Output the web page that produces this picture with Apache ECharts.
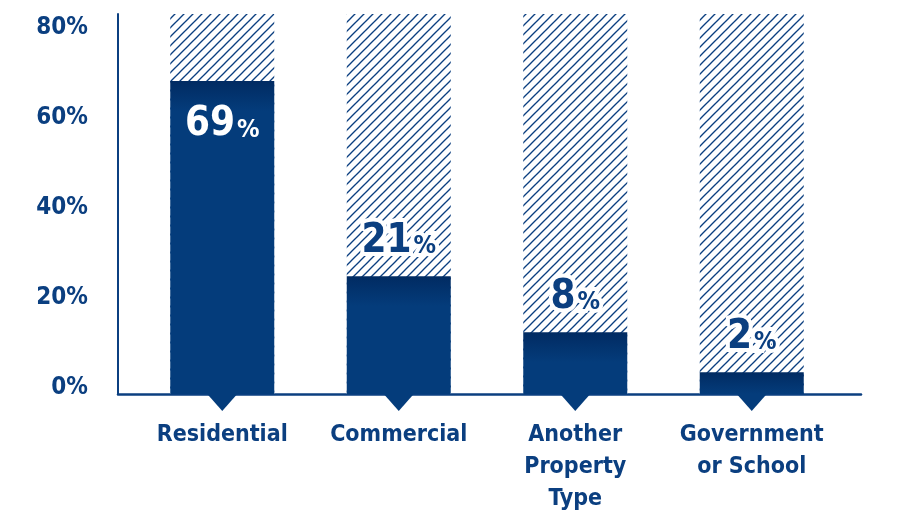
<!DOCTYPE html>
<html><head><meta charset="utf-8">
<script src="https://cdn.jsdelivr.net/npm/echarts@6/dist/echarts.min.js"></script>
<style>html,body{margin:0;padding:0;background:#fff}#c{width:903px;height:512px}</style>
</head><body><div id="c"></div>
<script>
// ---- data ----
const categories = ['Residential', 'Commercial', 'Another\nProperty\nType', 'Government\nor School'];
const barHeights = [65.9, 24.8, 13.0, 4.6];      // drawn bar heights (% scale)
const shareLabels = ['69', '21', '8', '2'];       // printed value labels
const backgroundLevel = [80, 80, 80, 80];         // hatched backdrop (axis max)
const yTickValues = [0, 20, 40, 60, 80];
const pointerBase = [0, 0, 0, 0];                 // triangles sit on the baseline

const NAVY = '#0b3f80';
const BAR_TOP = '#012b62';
const BAR = '#043c7b';
const FONT = "'DejaVu Sans Condensed','Liberation Sans Narrow','Roboto',sans-serif";

// diagonal hatch tile
function hatchTile() {
  const s = 9, c = document.createElement('canvas');
  c.width = s; c.height = s;
  const g = c.getContext('2d');
  g.fillStyle = '#fff'; g.fillRect(0, 0, s, s);
  g.strokeStyle = NAVY; g.lineWidth = 1.3;
  [0, s, 2 * s].forEach(k => { g.beginPath(); g.moveTo(-s, k + s); g.lineTo(k + s, -s); g.stroke(); });
  return c;
}

const chart = echarts.init(document.getElementById('c'), null, {renderer: 'canvas'});

const barData = barHeights.map((v, i) => {
  const f = Math.min(1, 6.3 / v);
  const inside = v > 40;
  const common = {fontFamily: FONT, fontWeight: 'bold', color: inside ? '#fff' : NAVY,
                  textBorderColor: inside ? 'transparent' : '#fff', textBorderWidth: inside ? 0 : 8};
  return {
    value: v,
    itemStyle: {
      color: {type: 'linear', x: 0, y: 0, x2: 0, y2: 1, colorStops: [
        {offset: 0, color: BAR_TOP}, {offset: f, color: BAR}, {offset: 1, color: BAR}]}
    },
    label: {
      show: true,
      position: inside ? 'insideTop' : 'top',
      distance: inside ? 24 : 15,
      formatter: '{n|' + shareLabels[i] + '}{p|%}',
      rich: {
        n: Object.assign({fontSize: 40}, common),
        p: Object.assign({fontSize: 25, verticalAlign: 'bottom', padding: [0, 0, 2, 2]}, common)
      }
    }
  };
});

chart.setOption({
  animation: false,
  backgroundColor: '#fff',
  grid: [
    {left: 118, right: 42, top: 14, bottom: 118, outerBoundsMode: 'none', containLabel: false},
    {left: 134, right: 63, top: 14, bottom: 118, outerBoundsMode: 'none', containLabel: false}
  ],
  xAxis: [
    {gridIndex: 0, type: 'value', min: 0, max: 1,
     axisLine: {show: true, onZero: false, lineStyle: {color: NAVY, width: 2.5}},
     axisTick: {show: false}, axisLabel: {show: false}, splitLine: {show: false}},
    {gridIndex: 1, type: 'category', data: categories,
     axisLine: {show: false}, axisTick: {show: false},
     axisLabel: {margin: 25, color: NAVY, fontFamily: FONT, fontWeight: 'bold', fontSize: 23,
                 lineHeight: 32, align: 'center', interval: 0}}
  ],
  yAxis: [
    {gridIndex: 0, type: 'value', min: -1.333, max: 83.11,
     axisLine: {show: true, onZero: false, lineStyle: {color: NAVY, width: 2}},
     axisTick: {show: false}, splitLine: {show: false},
     axisLabel: {customValues: yTickValues, formatter: '{value}%', margin: 30, color: NAVY,
                 fontFamily: FONT, fontWeight: 'bold', fontSize: 24}},
    {gridIndex: 1, type: 'value', min: 0, max: 80, show: false}
  ],
  series: [
    {type: 'bar', xAxisIndex: 1, yAxisIndex: 1, data: backgroundLevel, barWidth: 104, silent: true,
     itemStyle: {color: {image: hatchTile(), repeat: 'repeat'}}},
    {type: 'bar', xAxisIndex: 1, yAxisIndex: 1, data: barData, barWidth: 104, barGap: '-100%', z: 3},
    {type: 'scatter', xAxisIndex: 1, yAxisIndex: 1, data: pointerBase, clip: false, silent: true,
     symbol: 'path://M0,0L30,0L15,17Z', symbolSize: [30, 17], symbolOffset: [0, 8.5],
     itemStyle: {color: BAR, opacity: 1}, z: 4}
  ]
});
</script></body></html>
